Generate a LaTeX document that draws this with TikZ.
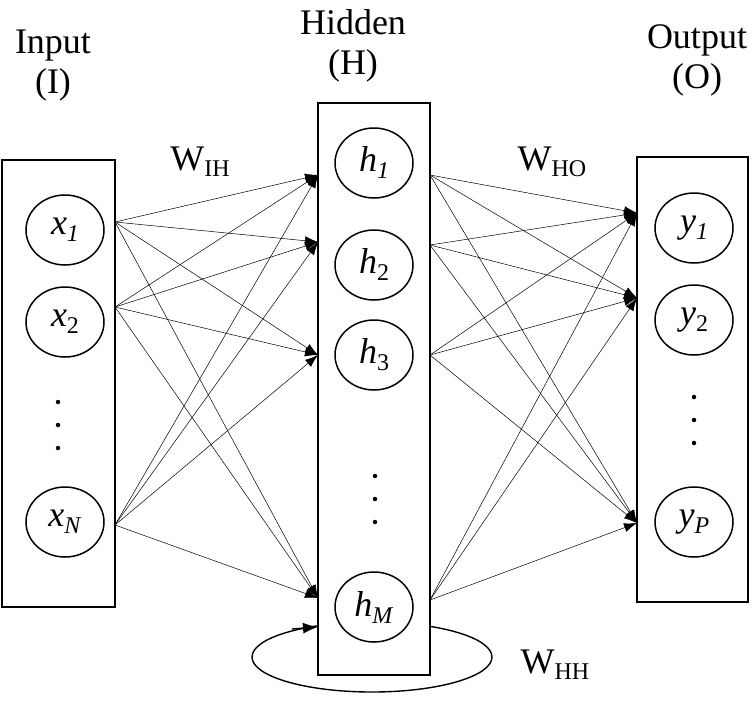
\documentclass[tikz,border=0pt]{standalone}
\usepackage{fontspec}
\setmainfont{Liberation Serif}
\usetikzlibrary{arrows.meta,shapes.geometric}
\newcommand{\nsub}[2]{\textit{#1}\raisebox{-7pt}{\fontsize{24}{24}\selectfont\textit{#2}}}
\begin{document}
\begin{tikzpicture}[x=1pt,y=-1pt,
  box/.style={draw,line width=1.4pt,fill=white},
  neuron/.style={draw,line width=1.5pt,ellipse,minimum width=78pt,minimum height=70pt,inner sep=0pt,font=\fontsize{36}{36}\selectfont},
  lbl/.style={font=\fontsize{36}{40}\selectfont,align=center},
  conn/.style={line width=0.5pt,-{Latex[length=13pt,width=9pt]}},
  dot/.style={circle,fill,inner sep=0pt,minimum size=4.5pt}]
\useasboundingbox (0,0) rectangle (752,702);
\draw[line width=1.4pt] (372,657) ellipse [x radius=120pt, y radius=35pt];
\draw[box] (2,160) rectangle (115,607);
\draw[box] (318,103) rectangle (430,675);
\draw[box] (637,157) rectangle (748,602);
\node[neuron] (x1) at (65,230) {\nsub{x}{1}};
\node[neuron] (x2) at (65,322) {\nsub{x}{\upshape 2}};
\node[neuron] (xN) at (65,522) {\nsub{x}{N}};
\node[neuron] (h1) at (374,163) {\nsub{h}{1}};
\node[neuron] (h2) at (374,265) {\nsub{h}{\upshape 2}};
\node[neuron] (h3) at (374,355) {\nsub{h}{\upshape 3}};
\node[neuron] (hM) at (374,607) {\nsub{h}{M}};
\node[neuron] (y1) at (694,228) {\nsub{y}{1}};
\node[neuron] (y2) at (694,320) {\nsub{y}{\upshape 2}};
\node[neuron] (yP) at (694,522) {\nsub{y}{P}};
\foreach \x/\a in {58/402,375/476,694/397}{
  \foreach \k in {0,1,2} \node[dot] (d\x\k) at (\x,\a+\k*23) {};}
\node[lbl] (tI) at (53,66) {Input\\(I)};
\node[lbl] (tH) at (353,46) {Hidden\\(H)};
\node[lbl] (tO) at (697,60) {Output\\(O)};
\node[lbl] (wih) at (200,162) {W\raisebox{-6pt}{\fontsize{24}{24}\selectfont IH}};
\node[lbl] (who) at (552,162) {W\raisebox{-6pt}{\fontsize{24}{24}\selectfont HO}};
\node[lbl] (whh) at (555,665) {W\raisebox{-6pt}{\fontsize{24}{24}\selectfont HH}};
\coordinate (s1) at (115,222); \coordinate (s2) at (115,307); \coordinate (sN) at (115,525);
\coordinate (t1) at (318,175); \coordinate (t2) at (318,242); \coordinate (t3) at (318,355); \coordinate (tM) at (318,598);
\coordinate (u1) at (430,175); \coordinate (u2) at (430,245); \coordinate (u3) at (430,355); \coordinate (uM) at (430,600);
\coordinate (v1) at (637,213); \coordinate (v2) at (637,298); \coordinate (vP) at (637,523);
\foreach \s in {s1,s2,sN}\foreach \t in {t1,t2,t3,tM}\draw[conn] (\s) -- (\t);
\foreach \s in {u1,u2,u3,uM}\foreach \t in {v1,v2,vP}\draw[conn] (\s) -- (\t);
\coordinate (le) at (292,629);
\draw[line width=1.4pt,-{Latex[length=15pt,width=11pt]}] (le) -- (318,627);
\end{tikzpicture}
\end{document}
